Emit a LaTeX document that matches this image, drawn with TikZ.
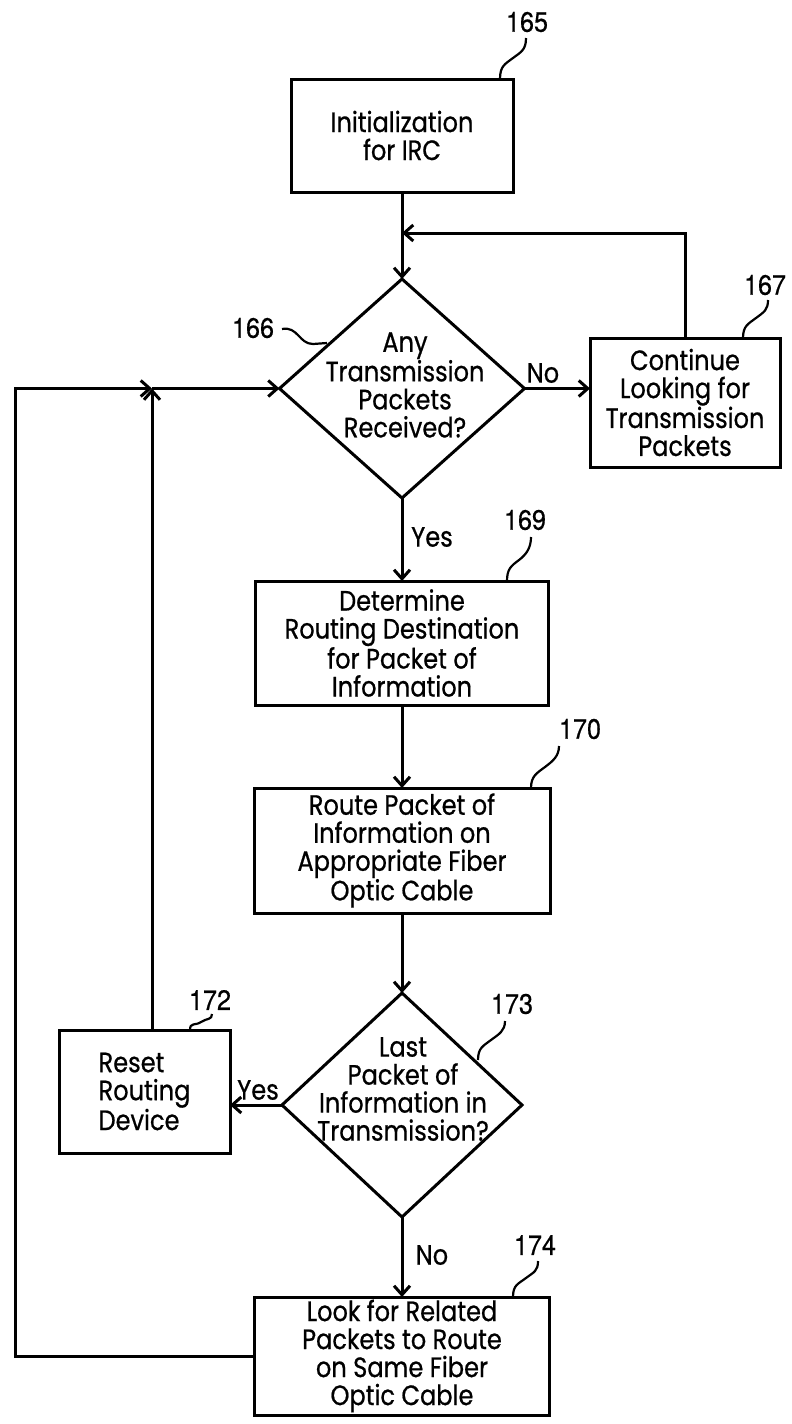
\documentclass[tikz,border=0pt]{standalone}
\usepackage{fontspec}
\newfontfamily\bodyfont[FakeStretch=0.86,FakeBold=0.7]{Poppins}
\newfontfamily\numfont[FakeStretch=0.9,FakeBold=0.5]{TeX Gyre Heros}
\usetikzlibrary{shapes.geometric,arrows.meta,calc}
\begin{document}
\begin{tikzpicture}[x=1pt,y=-1pt,
  every node/.style={inner sep=0pt,outer sep=0pt},
  bodytext/.style={font=\bodyfont\fontsize{28}{28}\selectfont},
  box/.style={draw,line width=3pt,rectangle,align=center,bodytext},
  dia/.style={draw,line width=3pt,diamond},
  txt/.style={align=center,bodytext},
  num/.style={font=\numfont\fontsize{28}{28}\selectfont},
  flow/.style={line width=3pt,-{Straight Barb[length=9pt,width=16pt,line width=3pt]}},
  lead/.style={line width=2.2pt}
]
\useasboundingbox (0,0) rectangle (792,1424);

% boxes and decisions
\node[box,minimum width=222,minimum height=113] (b165) at (402,135.5) {Initialization\\for IRC};
\node[dia,minimum width=245,minimum height=219] (d166) at (402,388.5) {};
\node[txt] (t166) at (405,385) {Any\\Transmission\\Packets\\Received?};
\node[box,minimum width=190,minimum height=129] (b167) at (685,402.5) {Continue\\Looking for\\Transmission\\Packets};
\node[box,minimum width=293,minimum height=124] (b169) at (402,643) {Determine\\Routing Destination\\for Packet of\\Information};
\node[box,minimum width=296,minimum height=125] (b170) at (402,850.5) {Route Packet of\\Information on\\Appropriate Fiber\\Optic Cable};
\node[dia,minimum width=240,minimum height=224] (d173) at (402,1105) {};
\node[txt] (t173) at (403,1089) {Last\\Packet of\\Information in\\Transmission?};
\node[box,minimum width=171,minimum height=123,align=left] (b172) at (144.5,1091.5) {Reset\\Routing\\Device};
\node[box,minimum width=295,minimum height=118] (b174) at (402,1356) {Look for Related\\Packets to Route\\on Same Fiber\\Optic Cable};

% branch labels
\node[txt] (lno1) at (543,373) {No};
\node[txt] (lyes1) at (432,537) {Yes};
\node[txt] (lyes2) at (258,1090) {Yes};
\node[txt] (lno2) at (432,1255) {No};

% reference numerals
\node[num] (n165) at (527,22) {165};
\node[num] (n166) at (253,328) {166};
\node[num] (n167) at (765,285) {167};
\node[num] (n169) at (525,520) {169};
\node[num] (n170) at (580,729) {170};
\node[num] (n172) at (210,1000) {172};
\node[num] (n173) at (512,1004) {173};
\node[num] (n174) at (535,1245) {174};

% flow connectors
\draw[flow] (b165) -- (d166);
\draw[flow] (d166) -- (b169);
\draw[flow] (b169) -- (b170);
\draw[flow] (b170) -- (d173);
\draw[flow] (d173) -- (b174);
\draw[flow] (d166.east) -- (d166.east -| b167.west);
\draw[flow] (d173.west) -- (d173.west -| b172.east);
\coordinate (fb) at (402,233);
\draw[flow] (b167.north) |- (fb);
\coordinate (cL) at (15,388.5);
\coordinate (jn) at (152,388.5);
\draw[flow] (b174.west) -| (cL) -- (jn);
\draw[flow] (b172.north -| jn) -- (jn);
\draw[flow] (jn) -- (d166.west);

% leader lines
\coordinate (s165) at (500,79);  \coordinate (m165) at (513,58);  \coordinate (e165) at (526,38);
\draw[lead] (s165) .. controls +(0,-13) and +(-8,6) .. (m165) .. controls +(8,-6) and +(0,12) .. (e165);
\coordinate (s167) at (743,338); \coordinate (m167) at (756,318); \coordinate (e167) at (768,300);
\draw[lead] (s167) .. controls +(0,-12) and +(-8,6) .. (m167) .. controls +(8,-6) and +(0,10) .. (e167);
\coordinate (s169) at (507,581); \coordinate (m169) at (519,560); \coordinate (e169) at (531,537);
\draw[lead] (s169) .. controls +(0,-12) and +(-8,6) .. (m169) .. controls +(8,-6) and +(0,10) .. (e169);
\coordinate (s170) at (531,788); \coordinate (m170) at (545,767); \coordinate (e170) at (559,746);
\draw[lead] (s170) .. controls +(0,-12) and +(-8,6) .. (m170) .. controls +(8,-6) and +(0,10) .. (e170);
\coordinate (s172) at (190,1030); \coordinate (m172) at (201,1022); \coordinate (e172) at (212,1014);
\draw[lead] (s172) .. controls +(0,-8) and +(-6,4) .. (m172) .. controls +(6,-4) and +(0,6) .. (e172);
\coordinate (s173) at (478,1060); \coordinate (m173) at (491,1040); \coordinate (e173) at (505,1021);
\draw[lead] (s173) .. controls +(0,-12) and +(-8,6) .. (m173) .. controls +(8,-6) and +(0,10) .. (e173);
\coordinate (s174) at (513,1297); \coordinate (m174) at (526,1278); \coordinate (e174) at (538,1261);
\draw[lead] (s174) .. controls +(0,-12) and +(-8,6) .. (m174) .. controls +(8,-6) and +(0,10) .. (e174);
\coordinate (s166) at (282,329); \coordinate (e166) at (327,343);
\draw[lead] (s166) .. controls +(16,-3) and +(-14,0) .. (313,344) -- (e166);
\end{tikzpicture}
\end{document}
